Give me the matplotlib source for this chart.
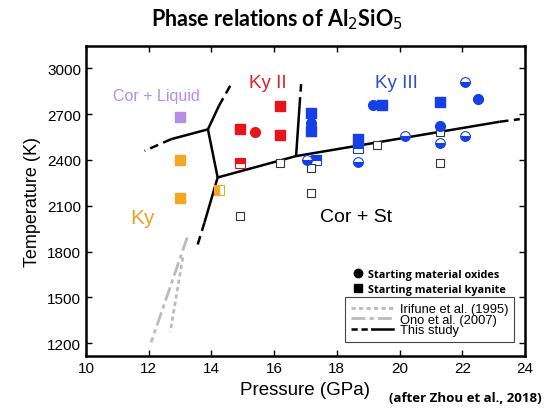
import matplotlib
matplotlib.use("Agg")
import matplotlib.pyplot as plt
from matplotlib.lines import Line2D
from matplotlib.legend_handler import HandlerTuple

plt.rcParams['font.family'] = ['Liberation Sans', 'DejaVu Sans']

# --- data (pressure GPa, temperature K) ---
# starting material oxides: filled circles
ox_full_P = [15.4, 17.19, 19.15, 21.29, 22.49]
ox_full_T = [2580, 2640, 2760, 2620, 2800]
ox_full_c = ['red', 'blue', 'blue', 'blue', 'blue']
# half-filled circles (bottom filled)
ox_half_P = [17.04, 18.68, 20.18, 21.29, 22.08, 22.08]
ox_half_T = [2400, 2385, 2555, 2510, 2910, 2555]

# starting material kyanite: filled squares
ky_full_P = [13.0, 13.0, 13.0, 14.9, 16.18, 16.18, 17.19, 17.19, 18.68, 19.44, 21.29]
ky_full_T = [2400, 2150, 2680, 2600, 2750, 2560, 2710, 2590, 2536, 2760, 2780]
ky_full_c = ['orange', 'orange', 'purple', 'red', 'red', 'red',
             'blue', 'blue', 'blue', 'blue', 'blue']
# half-filled squares (top filled)
ky_half_P = [14.9, 17.34, 18.68]
ky_half_T = [2380, 2400, 2475]
ky_half_c = ['red', 'blue', 'blue']
# half-filled square (left filled)
ky_left_P = [14.24]
ky_left_T = [2200]
# open squares (Cor + St)
open_P = [16.18, 17.19, 17.19, 14.9, 19.28, 21.29, 21.29]
open_T = [2380, 2350, 2180, 2030, 2500, 2580, 2380]

# phase boundaries, this study: solid parts and dashed extrapolations
solid_lines = [
    ([13.89, 12.72], [2600, 2536]),
    ([13.89, 14.24], [2600, 2754]),
    ([13.89, 14.2], [2600, 2285]),
    ([14.2, 13.78], [2285, 1990]),
    ([14.2, 16.7], [2285, 2425]),
    ([16.7, 16.81], [2425, 2754]),
    ([16.7, 23.19], [2425, 2650]),
]
dashed_lines = [
    ([12.72, 11.87], [2536, 2459]),
    ([14.24, 14.66], [2754, 2907]),
    ([13.78, 13.55], [1990, 1837]),
    ([16.81, 16.86], [2754, 2896]),
    ([23.19, 23.83], [2650, 2667]),
]
irifune_P = [13.09, 12.69]
irifune_T = [1761, 1274]
ono_P = [13.23, 12.08]
ono_T = [1892, 1205]

colors = {'red': '#e8141c', 'blue': '#1440e6', 'orange': '#f5a623',
          'purple': '#b48ee6'}

fig = plt.figure(figsize=(5.47, 4.10), dpi=100)
ax = fig.add_axes([0.157, 0.129, 0.803, 0.756])

gray = '#bbbbbb'
ax.plot(irifune_P, irifune_T, color=gray, lw=2, dashes=(1.5, 1.2))
ax.plot(ono_P, ono_T, color=gray, lw=2, dashes=(5, 1.5, 1.5, 1.5))
for xs, ys in solid_lines:
    ax.plot(xs, ys, color='black', lw=1.8, solid_capstyle='butt')
for xs, ys in dashed_lines:
    ax.plot(xs, ys, color='black', lw=1.8, dashes=(3.5, 2.2))

for p, t, c in zip(ky_full_P, ky_full_T, ky_full_c):
    ax.plot(p, t, 's', ms=6.5, color=colors[c], mec=colors[c])
for p, t, c in zip(ky_half_P, ky_half_T, ky_half_c):
    ax.plot(p, t, 's', ms=6.5, color=colors[c], mec=colors[c], mew=0.8,
            fillstyle='top', markerfacecoloralt='white')
for p, t in zip(ky_left_P, ky_left_T):
    ax.plot(p, t, 's', ms=6.5, color=colors['orange'], mec=colors['orange'],
            mew=0.8, fillstyle='left', markerfacecoloralt='white')
ax.plot(open_P, open_T, 's', ms=6, mfc='white', mec='#333333', mew=0.8, ls='none')
for p, t, c in zip(ox_full_P, ox_full_T, ox_full_c):
    ax.plot(p, t, 'o', ms=7, color=colors[c], mec=colors[c])
for p, t in zip(ox_half_P, ox_half_T):
    ax.plot(p, t, 'o', ms=7, color=colors['blue'], mec=colors['blue'], mew=0.8,
            fillstyle='bottom', markerfacecoloralt='white')

# region labels
ax.text(12.24, 2820, 'Cor + Liquid', color='#b48ee6', fontsize=11.5, ha='center', va='center')
ax.text(15.8, 2907, 'Ky II', color='#d8242a', fontsize=13.5, ha='center', va='center')
ax.text(19.9, 2907, 'Ky III', color='#2a52c8', fontsize=13.5, ha='center', va='center')
ax.text(11.81, 2023, 'Ky', color='#eaa12e', fontsize=15, ha='center', va='center')
ax.text(18.62, 2027, 'Cor + St', color='black', fontsize=14, ha='center', va='center')

ax.set_xlim(10, 24)
ax.set_ylim(1115, 3145)
ax.set_xticks([10, 12, 14, 16, 18, 20, 22, 24])
ax.set_yticks([1200, 1500, 1800, 2100, 2400, 2700, 3000])
ax.tick_params(direction='in', length=4.5, width=1, labelsize=11,
               top=True, right=True)
for s in ax.spines.values():
    s.set_linewidth(1.8)
ax.set_xlabel('Pressure (GPa)', fontsize=13.5, labelpad=4)
ax.set_ylabel('Temperature (K)', fontsize=13, labelpad=4)

fig.text(0.507, 0.952, 'Phase relations of Al$_2$SiO$_5$', fontsize=15.5,
         fontweight='bold', family='Lato', ha='center', va='center')
fig.text(0.99, 0.028, '(after Zhou et al., 2018)', fontsize=9.5,
         fontweight='bold', family='Open Sans', ha='right', va='center')

# marker legend
mk_handles = [Line2D([], [], marker='o', ls='none', color='black', ms=6),
              Line2D([], [], marker='s', ls='none', color='black', ms=6)]
leg1 = ax.legend(mk_handles, ['Starting material oxides', 'Starting material kyanite'],
                 loc='upper left', bbox_to_anchor=(0.6, 0.295), frameon=False,
                 handlelength=0.8, handletextpad=0.5, labelspacing=0.35,
                 borderaxespad=0, prop={'family': 'Open Sans', 'weight': 'bold', 'size': 7.8})
ax.add_artist(leg1)

h_iri = Line2D([], [], color=gray, lw=2, dashes=(1.5, 1.2))
h_ono = Line2D([], [], color=gray, lw=2, dashes=(5, 1.5, 1.5, 1.5))
h_dash = Line2D([], [], color='black', lw=1.8, dashes=(2.5, 1.5))
h_solid = Line2D([], [], color='black', lw=1.8)
leg2 = ax.legend([h_iri, h_ono, (h_dash, h_solid)],
                 ['Irifune et al. (1995)', 'Ono et al. (2007)', 'This study'],
                 handler_map={tuple: HandlerTuple(ndivide=None, pad=0)},
                 loc='upper left', bbox_to_anchor=(0.59, 0.19), fontsize=9.3,
                 handlelength=3.3, handletextpad=0.5, labelspacing=-0.12,
                 borderpad=0.45, fancybox=False, framealpha=1,
                 edgecolor='#444444', borderaxespad=0)
leg2.get_frame().set_linewidth(0.8)

fig.savefig('out.png', dpi=100)
